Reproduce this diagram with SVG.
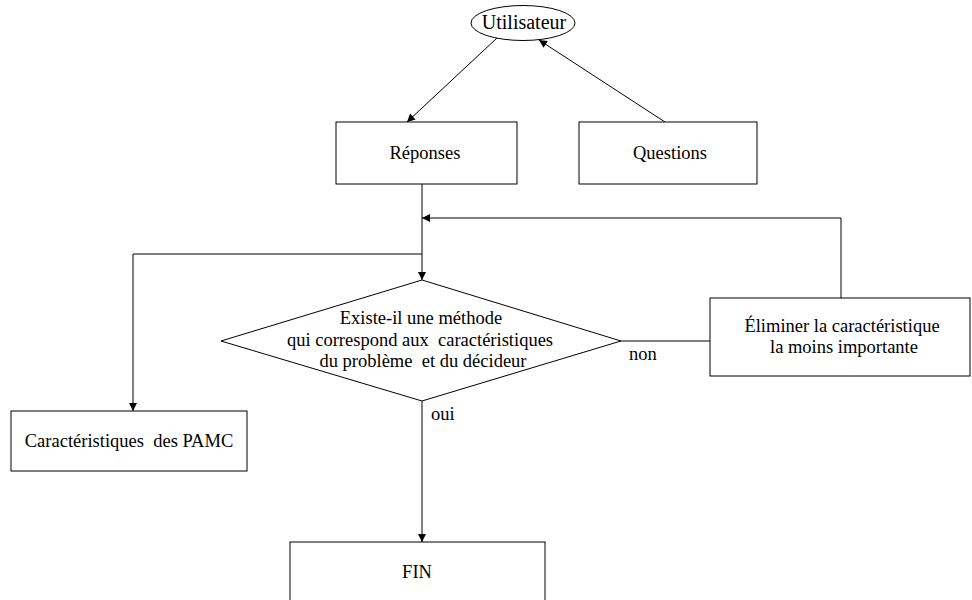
<svg xmlns="http://www.w3.org/2000/svg" width="972" height="600" viewBox="0 0 972 600" font-family="Liberation Serif, Times New Roman, serif" font-size="18.5">
<style>
.s{fill:#fff;stroke:#000;stroke-width:1}
.c{fill:none;stroke:#000;stroke-width:1}
.m{text-anchor:middle}
</style>
<defs>
<marker id="ah" viewBox="0 0 10 10" refX="10" refY="5" markerWidth="9" markerHeight="8" markerUnits="userSpaceOnUse" orient="auto">
<path d="M0,0 L10,5 L0,10 Z" fill="#000"/>
</marker>
</defs>
<rect width="972" height="600" fill="#fff"/>
<g id="connectors">
<line class="c" x1="497" y1="38" x2="407" y2="122" marker-end="url(#ah)"/>
<line class="c" x1="665" y1="122" x2="539" y2="40" marker-end="url(#ah)"/>
<line class="c" x1="422" y1="184" x2="422" y2="280" marker-end="url(#ah)"/>
<polyline class="c" points="841,298 841,218 422,218" marker-end="url(#ah)"/>
<polyline class="c" points="422,254 133,254 133,411" marker-end="url(#ah)"/>
<line class="c" x1="621" y1="341" x2="710" y2="341"/>
<line class="c" x1="422" y1="401" x2="422" y2="542" marker-end="url(#ah)"/>
<text x="629" y="360">non</text>
<text x="431" y="420">oui</text>
</g>
<g id="utilisateur">
<ellipse class="s" cx="523" cy="23" rx="52" ry="17.5"/>
<text class="m" x="524" y="29" font-size="20">Utilisateur</text>
</g>
<g id="reponses">
<rect class="s" x="336" y="122" width="181" height="62"/>
<text class="m" x="425" y="159">Réponses</text>
</g>
<g id="questions">
<rect class="s" x="579" y="122" width="178" height="62"/>
<text class="m" x="670" y="159">Questions</text>
</g>
<g id="decision">
<polygon class="s" points="422,280 621,341 422,401 221,341"/>
<text class="m" x="421" y="324">Existe-il une méthode</text>
<text class="m" x="420" y="346" xml:space="preserve">qui correspond aux  caractéristiques</text>
<text class="m" x="423" y="367" xml:space="preserve">du problème  et du décideur</text>
</g>
<g id="eliminer">
<rect class="s" x="710" y="298" width="260" height="78"/>
<text class="m" x="842" y="332">Éliminer la caractéristique</text>
<text class="m" x="844" y="353">la moins importante</text>
</g>
<g id="caracteristiques">
<rect class="s" x="11" y="411" width="236" height="60"/>
<text class="m" x="129" y="447" xml:space="preserve">Caractéristiques  des PAMC</text>
</g>
<g id="fin">
<rect class="s" x="290" y="542" width="255" height="70"/>
<text class="m" x="417" y="578">FIN</text>
</g>
</svg>
